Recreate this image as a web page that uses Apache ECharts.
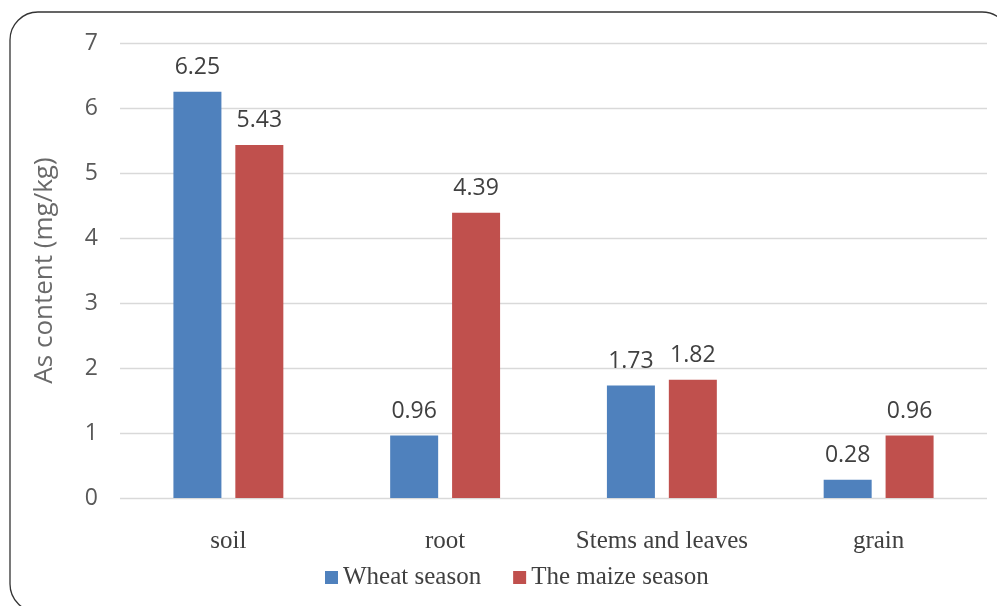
<!DOCTYPE html>
<html><head><meta charset="utf-8">
<script src="https://cdn.jsdelivr.net/npm/echarts@6/dist/echarts.min.js"></script>
<style>html,body{margin:0;padding:0;background:#fff}#c{width:997px;height:606px}</style>
</head><body><div id="c"></div>
<script>
var categories = ['soil', 'root', 'Stems and leaves', 'grain'];
var wheat = [6.25, 0.96, 1.73, 0.28];
var maize = [5.43, 4.39, 1.82, 0.96];
var yTicks = [0, 1, 2, 3, 4, 5, 6, 7];
var chart = echarts.init(document.getElementById('c'));
var lbl = {show: true, position: 'top', distance: 13, color: '#404040', fontSize: 23, fontFamily: 'Open Sans, sans-serif', formatter: function(p){return p.value.toFixed(2);}};
chart.setOption({
  animation: false,
  graphic: [{type: 'rect', shape: {x: 10, y: 12, width: 1000, height: 600, r: 28}, style: {fill: 'none', stroke: '#333', lineWidth: 1.3}}],
  grid: {left: 120, right: 10, top: 43, bottom: 108},
  legend: {bottom: 11, left: 320, itemWidth: 13, itemHeight: 13, itemGap: 32, icon: 'rect',
    textStyle: {fontFamily: 'Liberation Serif, serif', fontSize: 25, color: '#404040'}},
  xAxis: {type: 'category', data: categories, axisLine: {show: false}, axisTick: {show: false},
    axisLabel: {interval: 0, hideOverlap: false, fontFamily: 'Liberation Serif, serif', fontSize: 25, color: '#404040', margin: 31}},
  yAxis: {type: 'value', min: yTicks[0], max: yTicks[yTicks.length-1], interval: 1,
    name: 'As content (mg/kg)', nameLocation: 'middle', nameGap: 62, nameTextStyle: {fontSize: 26, color: '#6a6a6a', fontFamily: 'Open Sans, sans-serif'},
    axisLabel: {fontSize: 23, color: '#595959', margin: 22, fontFamily: 'Open Sans, sans-serif'},
    splitLine: {lineStyle: {color: '#d9d9d9', width: 1.3}}},
  series: [
    {name: 'Wheat season', type: 'bar', data: wheat, barWidth: 48, barGap: '29%', itemStyle: {color: '#4f81bd'}, label: lbl},
    {name: 'The maize season', type: 'bar', data: maize, barWidth: 48, itemStyle: {color: '#c0504d'}, label: lbl}
  ]
});
</script></body></html>
